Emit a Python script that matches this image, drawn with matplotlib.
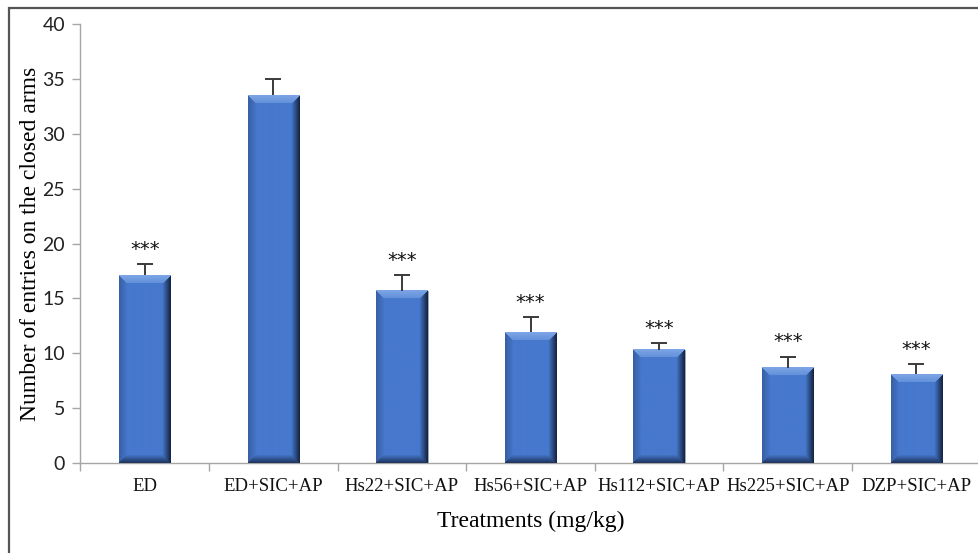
import numpy as np
import matplotlib
matplotlib.use("Agg")
import matplotlib.pyplot as plt
from matplotlib.patches import Rectangle

# data
treatments = ['ED', 'ED+SIC+AP', 'Hs22+SIC+AP', 'Hs56+SIC+AP',
              'Hs112+SIC+AP', 'Hs225+SIC+AP', 'DZP+SIC+AP']
entries = [17.1, 33.5, 15.7, 11.9, 10.3, 8.7, 8.1]
sem = [1.0, 1.5, 1.4, 1.4, 0.6, 1.0, 0.9]
signif = ['***', '', '***', '***', '***', '***', '***']

base = np.array([70, 120, 205]) / 255.0
light = np.array([125, 165, 230]) / 255.0
dark = np.array([22, 38, 70]) / 255.0


def bevel_image(nx, ny, b):
    # shaded bevel like the office "angle" bar effect
    img = np.tile(base, (ny, nx, 1))
    yy, xx = np.mgrid[0:ny, 0:nx]
    d_left = xx
    d_right = nx - 1 - xx
    d_top = yy
    d_bot = ny - 1 - yy
    dmin = np.minimum(np.minimum(d_left, d_right), np.minimum(d_top, d_bot))
    inb = dmin < b
    t = np.clip(dmin / b, 0, 1)[..., None]
    top = inb & (d_top == dmin)
    right = inb & (d_right == dmin) & ~top
    bot = inb & (d_bot == dmin) & ~top & ~right
    left = inb & ~top & ~right & ~bot
    img[top] = light[None, :] * (1 - 0.5 * t[top]) + base[None, :] * 0.5 * t[top]
    img[right] = dark[None, :] * (1 - t[right]) + base[None, :] * t[right]
    img[bot] = dark[None, :] * (1 - t[bot]) * 0.8 + base[None, :] * (0.2 + 0.8 * t[bot])
    img[left] = base[None, :] * (0.8 + 0.2 * t[left])
    return img


fig = plt.figure(figsize=(9.79, 5.53), dpi=100)
ax = fig.add_axes([0.0822, 0.1627, 0.9195, 0.7939])

x = np.arange(len(treatments))
bars = ax.bar(x, entries, width=0.4, color=base, edgecolor='#9aa6b8',
              linewidth=0.6, zorder=2)
ax.set_xlim(-0.5, len(treatments) - 0.5)
ax.set_ylim(0, 40)

fig.canvas.draw()
for b in bars:
    x0, w, h = b.get_x(), b.get_width(), b.get_height()
    p0 = ax.transData.transform((x0, 0))
    p1 = ax.transData.transform((x0 + w, h))
    nx = int(round(p1[0] - p0[0]))
    ny = int(round(p1[1] - p0[1]))
    img = bevel_image(nx, ny, 8)
    ax.imshow(img, extent=(x0, x0 + w, 0, h), origin='upper',
              aspect='auto', interpolation='bilinear', zorder=3)
ax.set_xlim(-0.5, len(treatments) - 0.5)
ax.set_ylim(0, 40)

eb = ax.errorbar(x, entries, yerr=[np.zeros(len(sem)), sem], fmt='none',
                 ecolor='#3a3a3a', elinewidth=1.4, capsize=5.5, capthick=1.4,
                 zorder=4)
# only the upper cap is drawn in the reference
eb.lines[1][0].set_visible(False)

for xi, v, e, s in zip(x, entries, sem, signif):
    if s:
        ax.text(xi, v + e + 0.5, s, ha='center', va='bottom',
                fontsize=14, family='DejaVu Sans', color='#111111')

for sp in ['top', 'right']:
    ax.spines[sp].set_visible(False)
for sp in ['left', 'bottom']:
    ax.spines[sp].set_color('#a6a6a6')
    ax.spines[sp].set_linewidth(1.0)

ax.set_yticks(range(0, 41, 5))
ax.tick_params(axis='y', colors='#a6a6a6', length=6, width=1.0,
               labelcolor='#222222', labelsize=14, pad=5)
for lab in ax.get_yticklabels():
    lab.set_family('Lato')

ax.set_xticks(x)
ax.set_xticklabels(treatments, family='Liberation Serif', fontsize=13.5)
ax.tick_params(axis='x', length=0, pad=11, labelcolor='#111111')
ax.set_xticks(np.arange(-0.5, len(treatments), 1), minor=True)
ax.tick_params(axis='x', which='minor', length=6, width=1.0, colors='#a6a6a6')

ax.set_xlabel('Treatments (mg/kg)', family='Liberation Serif', fontsize=17,
              labelpad=11)
ax.set_ylabel('Number of entries on the closed arms', family='Liberation Serif',
              fontsize=17, labelpad=1)

# frame around the whole chart area (cut off on the right and bottom)
frame = Rectangle((9 / 979, -0.05), 1.0, 1 - 8 / 553 + 0.05,
                  transform=fig.transFigure, fill=False,
                  edgecolor='#555555', linewidth=1.6, clip_on=False)
fig.add_artist(frame)

fig.savefig('out.png', dpi=100)
